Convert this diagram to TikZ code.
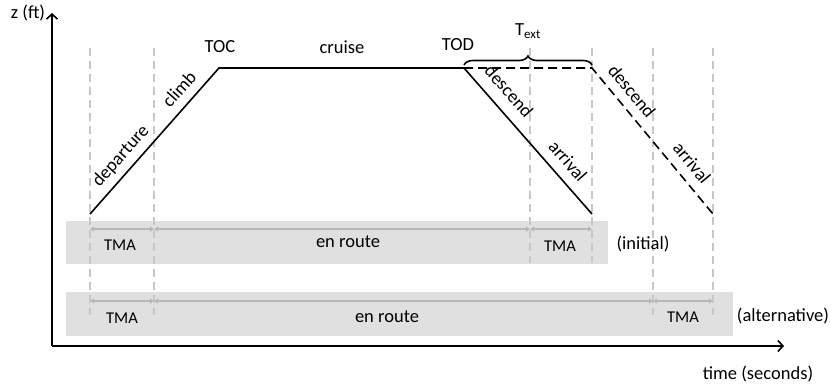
\documentclass[tikz,border=0pt]{standalone}
\usepackage{fontspec}
\setmainfont{Carlito}
\usetikzlibrary{arrows.meta,decorations.pathreplacing}
\begin{document}
\begin{tikzpicture}[x=1pt,y=-1pt]
       \tikzstyle{lbl}=[font=\fontsize{18.5}{22}\selectfont, inner sep=0pt]
       \tikzstyle{tma}=[font=\fontsize{16.5}{20}\selectfont, inner sep=0pt]
       \tikzstyle{band}=[fill=black!12]
       \tikzstyle{guide}=[draw=black!22, line width=2.8pt, dash pattern=on 8pt off 5pt]
       \tikzstyle{track}=[draw=black!28, line width=2.5pt, {Latex[length=4pt,width=6pt]}-{Latex[length=4pt,width=6pt]}]
       \tikzstyle{profile}=[draw, line width=1.6pt]
       \tikzstyle{axis}=[draw, line width=1.6pt, -{Straight Barb[length=5pt,width=11pt]}]
       \useasboundingbox (0,0) rectangle (835,389);
       % time bands
       \fill[band] (66,221) rectangle (608,264);
       \fill[band] (66,292) rectangle (733,336);
       % phase boundaries
       \foreach \gx/\gy in {90/315, 154/315, 530/263, 592/263, 653/315, 713/315}
         \draw[guide] (\gx,48) -- (\gx,\gy);
       \draw[track] (90,229) -- (154,229);
       \draw[track] (154,229) -- (530,229);
       \draw[track] (530,229) -- (592,229);
       \draw[track] (90,301) -- (154,301);
       \draw[track] (154,301) -- (653,301);
       \draw[track] (653,301) -- (713,301);
       % flight profile
       \coordinate (dep) at (90,214);
       \coordinate (toc) at (219,68);
       \coordinate (tod) at (464,68);
       \coordinate (arr) at (592,214);
       \coordinate (todx) at (592,68);
       \coordinate (arrx) at (713,214);
       \draw[profile] (dep) -- (toc) -- (tod) -- (arr);
       \draw[profile, dash pattern=on 9pt off 5pt] (tod) -- (todx) -- (arrx);
       \draw[line width=1.6pt, decorate, decoration={brace, amplitude=9pt, raise=3pt}]
         (tod) -- (todx);
       \node[lbl] (text) at (528,31) {T\textsubscript{ext}};
       \node[lbl] (toclbl) at (220,47) {TOC};
       \node[lbl] (todlbl) at (458,45) {TOD};
       \node[lbl] (cruise) at (342,47) {cruise};
       \node[lbl, rotate=48.3] (departure) at (121,156) {departure};
       \node[lbl, rotate=48.3] (climb) at (179,89) {climb};
       \node[lbl, rotate=-48.6] (descend) at (509,91) {descend};
       \node[lbl, rotate=-48.6] (arrival) at (568,161) {arrival};
       \node[lbl, rotate=-50.2] (descendx) at (632,91) {descend};
       \node[lbl, rotate=-50.2] (arrivalx) at (692,163) {arrival};
       % airspace labels
       \node[tma] (tma1) at (120,245) {TMA};
       \node[lbl] (route1) at (348,242) {en route};
       \node[tma] (tma2) at (560,246) {TMA};
       \node[lbl] (initial) at (643,244) {(initial)};
       \node[tma] (tma3) at (122,318) {TMA};
       \node[lbl] (route2) at (387,317) {en route};
       \node[tma] (tma4) at (683,317) {TMA};
       \node[lbl] (altern) at (783,316) {(alternative)};
       % axes
       \coordinate (origin) at (52,346);
       \coordinate (ztop) at (52,13);
       \coordinate (tend) at (784,346);
       \draw[axis] (origin) -- (ztop);
       \draw[axis] (origin) -- (tend);
       \node[lbl] (zlbl) at (28,13) {z (ft)};
       \node[lbl] (tlbl) at (758,374) {time (seconds)};
\end{tikzpicture}
\end{document}
